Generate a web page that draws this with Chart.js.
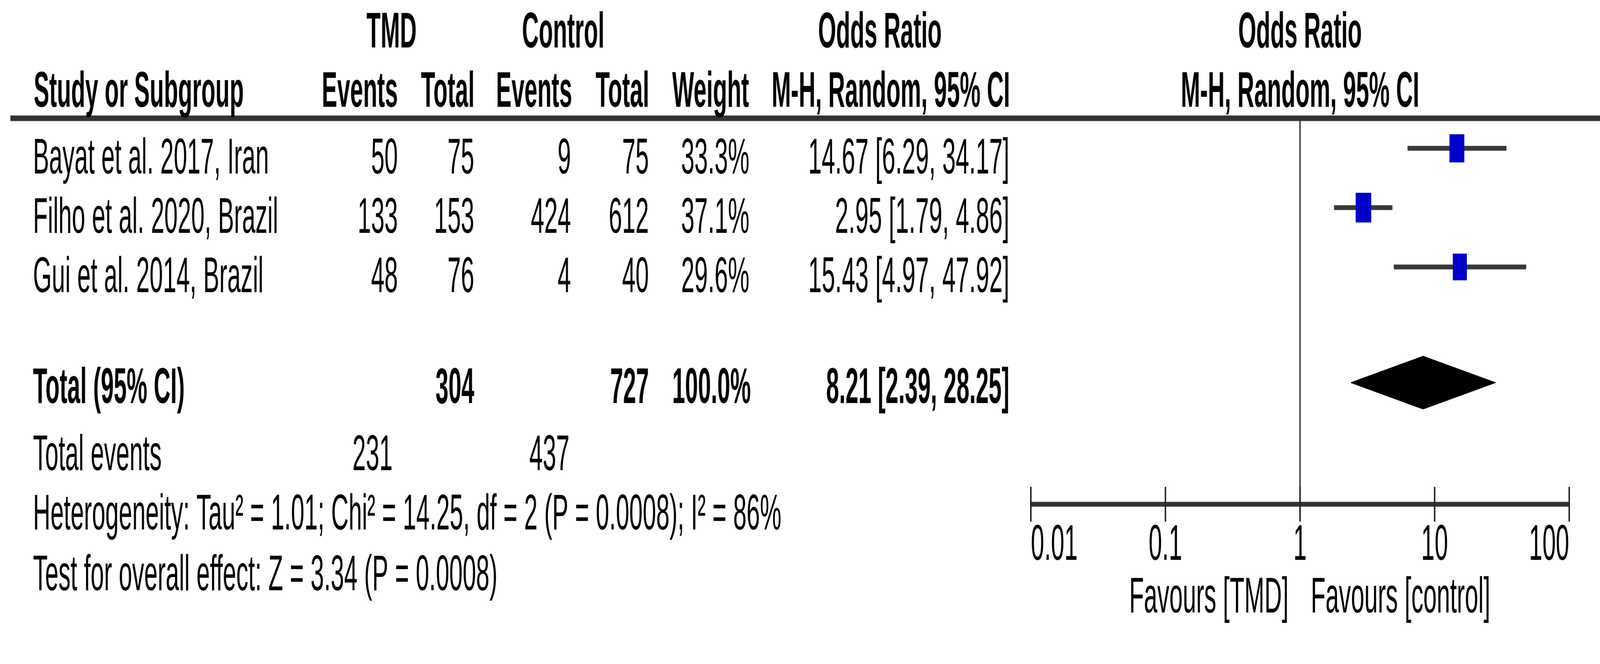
<!DOCTYPE html>
<html><head><meta charset="utf-8">
<script src="https://cdn.jsdelivr.net/npm/chart.js@4.4.1/dist/chart.umd.min.js"></script>
<style>html,body{margin:0;padding:0;background:#fff;overflow:hidden}#wrap{width:4315px;height:1700px;position:absolute;left:0;top:0;transform-origin:0 0}canvas{display:block}</style>
</head><body><div id="wrap"><canvas id="c" width="4315" height="1700"></canvas></div>
<script>
// ---------------- data ----------------
const studies = ['Bayat et al. 2017, Iran', 'Filho et al. 2020, Brazil', 'Gui et al. 2014, Brazil'];
const tmdEvents = [50, 133, 48];
const tmdTotal = [75, 153, 76];
const ctrlEvents = [9, 424, 4];
const ctrlTotal = [75, 612, 40];
const weights = [33.3, 37.1, 29.6];
const orValues = [14.67, 2.95, 15.43];
const ciLow = [6.29, 1.79, 4.97];
const ciHigh = [34.17, 4.86, 47.92];

const totalLabel = 'Total (95% CI)';
const tmdTotalSum = 304;
const ctrlTotalSum = 727;
const totalWeight = 100.0;
const pooledOR = 8.21;
const pooledLow = 2.39;
const pooledHigh = 28.25;
const tmdEventsSum = 231;
const ctrlEventsSum = 437;

const tau2 = '1.01', chi2 = '14.25', dfHet = 2, pHet = '0.0008', i2 = 86;
const zVal = '3.34', pZ = '0.0008';

const tickValues = [0.01, 0.1, 1, 10, 100];
const tickLabels = ['0.01', '0.1', '1', '10', '100'];
const favoursLeft = 'Favours [TMD]';
const favoursRight = 'Favours [control]';

// row positions (row units on the y scale)
const studyRows = [0, 1, 2];
const pooledRow = 3.95;
const totalTextRow = 3.87;
const footerRows = [5, 6, 7];

// ---------------- fit page to window ----------------
(function fit() {
  const s = Math.min(window.innerWidth / 4315, window.innerHeight / 1700);
  if (s > 0 && Math.abs(s - 1) > 0.001) {
    document.getElementById('wrap').style.transform = 'scale(' + s + ')';
  }
})();

// ---------------- style ----------------
const FONT_PX = 136;
const SX_NORMAL = 0.478, SX_BOLD = 0.46;
const TEXT_DY = 68;
const BLUE = '#0000C8';
const DIAMOND_HALF = 0.445;

function fmt2(v) { return v.toFixed(2); }
function ciText(o, l, h) { return fmt2(o) + ' [' + fmt2(l) + ', ' + fmt2(h) + ']'; }

function txt(ctx, s, x, y, align, bold) {
  ctx.save();
  ctx.font = (bold ? 'bold ' : '') + FONT_PX + 'px "Liberation Sans", Arial, sans-serif';
  ctx.fillStyle = '#000';
  ctx.textBaseline = 'alphabetic';
  ctx.textAlign = align;
  ctx.translate(x, y);
  ctx.scale(bold ? SX_BOLD : SX_NORMAL, 1);
  ctx.fillText(s, 0, 0);
  ctx.restore();
}

function boxImg(w) {
  const k = Math.sqrt(w / 33.3);
  const c = document.createElement('canvas');
  c.width = Math.round(40 * k);
  c.height = Math.round(76 * k);
  const g = c.getContext('2d');
  g.fillStyle = BLUE;
  g.fillRect(0, 0, c.width, c.height);
  return c;
}

// column right edges
const COL = { name: 89, tmdE: 1073, tmdT: 1279, ctlE: 1540, ctlT: 1750, wt: 2021, or: 2722 };

const forestPlugin = {
  id: 'forest',
  beforeDatasetsDraw(chart) {
    const ctx = chart.ctx;
    const xs = chart.scales.x;
    const area = chart.chartArea;
    const x1 = xs.getPixelForValue(1);
    const axisY = area.bottom;
    ctx.save();
    // header rule
    ctx.strokeStyle = '#333';
    ctx.lineWidth = 15;
    ctx.lineCap = 'butt';
    ctx.beginPath(); ctx.moveTo(28, 319); ctx.lineTo(4315, 319); ctx.stroke();
    // null line
    ctx.strokeStyle = '#444';
    ctx.lineWidth = 4;
    ctx.beginPath(); ctx.moveTo(x1, 326); ctx.lineTo(x1, axisY + 47); ctx.stroke();
    // axis line
    ctx.strokeStyle = '#333';
    ctx.lineWidth = 13;
    ctx.beginPath();
    ctx.moveTo(xs.getPixelForValue(tickValues[0]), axisY);
    ctx.lineTo(xs.getPixelForValue(tickValues[tickValues.length - 1]), axisY);
    ctx.stroke();
    // ticks + labels
    ctx.strokeStyle = '#222';
    ctx.lineWidth = 4;
    tickValues.forEach((v, i) => {
      const px = xs.getPixelForValue(v);
      ctx.beginPath(); ctx.moveTo(px, axisY - 47); ctx.lineTo(px, axisY + 47); ctx.stroke();
      const align = i === 0 ? 'left' : (i === tickValues.length - 1 ? 'right' : 'center');
      txt(ctx, tickLabels[i], px, 1510, align, false);
    });
    txt(ctx, favoursLeft, x1 - 31, 1652, 'right', false);
    txt(ctx, favoursRight, x1 + 29, 1652, 'left', false);
    ctx.restore();
  },
  afterDraw(chart) {
    const ctx = chart.ctx;
    const xs = chart.scales.x, ys = chart.scales.y;
    const x1 = xs.getPixelForValue(1);
    // headers
    txt(ctx, 'TMD', 1056, 128, 'center', true);
    txt(ctx, 'Control', 1519, 128, 'center', true);
    txt(ctx, 'Odds Ratio', 2373, 128, 'center', true);
    txt(ctx, 'Odds Ratio', x1, 128, 'center', true);
    txt(ctx, 'Study or Subgroup', 91, 288, 'left', true);
    txt(ctx, 'Events', 1073, 288, 'right', true);
    txt(ctx, 'Total', 1280, 288, 'right', true);
    txt(ctx, 'Events', 1543, 288, 'right', true);
    txt(ctx, 'Total', 1751, 288, 'right', true);
    txt(ctx, 'Weight', 2020, 288, 'right', true);
    txt(ctx, 'M-H, Random, 95% CI', 2724, 288, 'right', true);
    txt(ctx, 'M-H, Random, 95% CI', x1, 288, 'center', true);
    // study rows
    studies.forEach((s, i) => {
      const y = ys.getPixelForValue(studyRows[i]) + TEXT_DY;
      txt(ctx, s, COL.name, y, 'left', false);
      txt(ctx, String(tmdEvents[i]), COL.tmdE, y, 'right', false);
      txt(ctx, String(tmdTotal[i]), COL.tmdT, y, 'right', false);
      txt(ctx, String(ctrlEvents[i]), COL.ctlE, y, 'right', false);
      txt(ctx, String(ctrlTotal[i]), COL.ctlT, y, 'right', false);
      txt(ctx, weights[i].toFixed(1) + '%', COL.wt, y, 'right', false);
      txt(ctx, ciText(orValues[i], ciLow[i], ciHigh[i]), COL.or, y, 'right', false);
    });
    // total row
    const yt = ys.getPixelForValue(totalTextRow) + TEXT_DY;
    txt(ctx, totalLabel, COL.name, yt, 'left', true);
    txt(ctx, String(tmdTotalSum), COL.tmdT, yt, 'right', true);
    txt(ctx, String(ctrlTotalSum), COL.ctlT, yt, 'right', true);
    txt(ctx, totalWeight.toFixed(1) + '%', COL.wt + 4, yt, 'right', true);
    txt(ctx, ciText(pooledOR, pooledLow, pooledHigh), COL.or, yt, 'right', true);
    // footer
    const y5 = ys.getPixelForValue(footerRows[0]) + TEXT_DY;
    txt(ctx, 'Total events', COL.name, y5, 'left', false);
    txt(ctx, String(tmdEventsSum), 1059, y5, 'right', false);
    txt(ctx, String(ctrlEventsSum), 1536, y5, 'right', false);
    const y6 = ys.getPixelForValue(footerRows[1]) + TEXT_DY;
    txt(ctx, 'Heterogeneity: Tau\u00B2 = ' + tau2 + '; Chi\u00B2 = ' + chi2 + ', df = ' + dfHet + ' (P = ' + pHet + '); I\u00B2 = ' + i2 + '%', COL.name, y6, 'left', false);
    const y7 = ys.getPixelForValue(footerRows[2]) + TEXT_DY + 4;
    txt(ctx, 'Test for overall effect: Z = ' + zVal + ' (P = ' + pZ + ')', COL.name, y7, 'left', false);
  }
};

const ciDatasets = studies.map((s, i) => ({
  type: 'scatter',
  label: s + ' CI',
  data: [{ x: ciLow[i], y: studyRows[i] }, { x: ciHigh[i], y: studyRows[i] }],
  showLine: true,
  borderColor: '#383838',
  borderWidth: 13,
  borderCapStyle: 'butt',
  pointRadius: 0,
  order: 2
}));

const boxDataset = {
  type: 'scatter',
  label: 'Odds ratio',
  data: orValues.map((v, i) => ({ x: v, y: studyRows[i] })),
  pointStyle: weights.map(boxImg),
  pointRadius: 5,
  order: 0
};

const diamondDataset = {
  type: 'scatter',
  label: 'Pooled',
  data: [
    { x: pooledLow, y: pooledRow },
    { x: pooledOR, y: pooledRow - DIAMOND_HALF },
    { x: pooledHigh, y: pooledRow },
    { x: pooledOR, y: pooledRow + DIAMOND_HALF },
    { x: pooledLow, y: pooledRow }
  ],
  showLine: true,
  fill: 'shape',
  backgroundColor: '#000',
  borderColor: '#000',
  borderWidth: 2,
  pointRadius: 0,
  tension: 0,
  order: 1
};

new Chart(document.getElementById('c'), {
  type: 'scatter',
  data: { datasets: [boxDataset, diamondDataset, ...ciDatasets] },
  options: {
    responsive: false,
    devicePixelRatio: 1,
    animation: false,
    layout: { padding: { left: 2780, right: 83, top: 320, bottom: 340 } },
    plugins: { legend: { display: false }, tooltip: { enabled: false } },
    scales: {
      x: { type: 'logarithmic', min: 0.01, max: 100, display: false },
      y: { type: 'linear', min: -0.5, max: 6, reverse: true, display: false }
    }
  },
  plugins: [forestPlugin]
});
</script>
</body></html>
